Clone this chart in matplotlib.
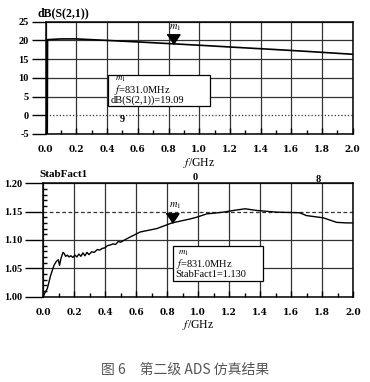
import matplotlib.pyplot as plt
from matplotlib.patches import Rectangle
from matplotlib.ticker import MultipleLocator, FormatStrFormatter

# Data: dB(S(2,1)) vs frequency (GHz)
s21_freq = [0.01, 0.012, 0.1, 0.2, 0.4, 0.6, 0.831, 1.05, 1.26, 1.48, 1.69, 2.0]
s21_db = [-5, 20.2, 20.4, 20.4, 20.0, 19.6, 19.09, 18.6, 18.1, 17.6, 17.1, 16.3]

# Data: StabFact1 vs frequency (GHz)
k_freq = [0.0, 0.004, 0.026, 0.047, 0.069, 0.084, 0.097, 0.105, 0.114, 0.127, 0.135,
          0.144, 0.155, 0.166, 0.178, 0.191, 0.204, 0.217, 0.230, 0.243, 0.256,
          0.269, 0.282, 0.295, 0.312, 0.329, 0.349, 0.364, 0.381, 0.398, 0.415,
          0.433, 0.450, 0.467, 0.484, 0.501, 0.519, 0.553, 0.626, 0.733, 0.831,
          0.948, 0.99, 1.056, 1.163, 1.228, 1.303, 1.378, 1.507, 1.655, 1.699,
          1.808, 1.894, 1.958, 2.0]
k_val = [1.000, 1.003, 1.014, 1.037, 1.055, 1.062, 1.065, 1.055, 1.067, 1.078, 1.076,
         1.071, 1.073, 1.070, 1.072, 1.069, 1.073, 1.070, 1.075, 1.071, 1.077,
         1.072, 1.078, 1.074, 1.079, 1.078, 1.083, 1.082, 1.085, 1.086, 1.090,
         1.091, 1.093, 1.092, 1.097, 1.096, 1.099, 1.104, 1.114, 1.120, 1.130,
         1.137, 1.140, 1.146, 1.149, 1.152, 1.155, 1.152, 1.149, 1.148, 1.143,
         1.139, 1.131, 1.130, 1.130]

marker_f = 0.831
marker_s21 = 19.09
marker_k = 1.130

W, H = 370, 382
plt.rcParams['font.family'] = ['Liberation Serif', 'DejaVu Serif']
plt.rcParams['mathtext.fontset'] = 'stix'

fig = plt.figure(figsize=(W / 100, H / 100), dpi=100)


def px(x, y):
    return x / W, 1 - y / H


tri = [(-1.2, 1.8), (1.2, 1.8), (0, 0)]


def style(ax, ymaj, ymin, fmt, ytick_len):
    ax.xaxis.set_major_locator(MultipleLocator(0.2))
    ax.xaxis.set_minor_locator(MultipleLocator(0.1))
    ax.yaxis.set_major_locator(MultipleLocator(ymaj))
    if ymin:
        ax.yaxis.set_minor_locator(MultipleLocator(ymin))
    ax.xaxis.set_major_formatter(FormatStrFormatter('%.1f'))
    ax.yaxis.set_major_formatter(FormatStrFormatter(fmt))
    ax.tick_params(axis='x', which='both', direction='in', width=1, pad=8)
    ax.tick_params(axis='x', which='major', length=4)
    ax.tick_params(axis='x', which='minor', length=3)
    ax.tick_params(axis='y', which='major', direction='out', length=ytick_len, width=1, pad=2)
    ax.tick_params(axis='y', which='minor', direction='in', length=3, width=1)
    for lab in ax.get_xticklabels():
        lab.set_fontweight('bold')
        lab.set_fontsize(6.5)
        lab.set_family('DejaVu Serif')
    for lab in ax.get_yticklabels():
        lab.set_fontweight('bold')
        lab.set_fontsize(7.5)
    ax.grid(True, which='major', color='#333333', linewidth=0.9)
    for s in ax.spines.values():
        s.set_linewidth(1.1)
    ax.set_xlim(0, 2.0)


def restyle_grid(ax, value, ls):
    for t, gl in zip(ax.yaxis.get_major_locator()(), ax.get_ygridlines()):
        if abs(t - value) < 1e-6:
            gl.set_linestyle(ls)


# Top chart
ax1 = fig.add_axes([45.7 / W, (H - 134) / H, 307 / W, 112.3 / H])
ax1.plot(s21_freq, s21_db, color='black', linewidth=1.2)
ax1.plot([marker_f], [marker_s21], marker=tri, markersize=14, color='black', linestyle='none')
ax1.set_ylim(-5, 25)
style(ax1, 5, None, '%d', 10)
ax1.minorticks_off()
ax1.xaxis.set_minor_locator(MultipleLocator(0.1))
ax1.set_xlabel(r'$f$/GHz', fontsize=8.5, labelpad=1)
fig.text(*px(37, 13), 'dB(S(2,1))', fontsize=8.5, fontweight='bold', va='center')
fig.text(*px(169, 28), r'$m_1$', fontsize=7.5, va='center')
fig.add_artist(Rectangle(px(108, 106), 102 / W, 31 / H, transform=fig.transFigure,
                         facecolor='white', edgecolor='black', linewidth=0.9))
fig.text(*px(115, 79), r'$m_1$', fontsize=6.5, va='center')
fig.text(*px(114, 90), r'$f$=831.0MHz', fontsize=7.5, va='center')
fig.text(*px(111, 100.5), 'dB(S(2,1))=19.09', fontsize=7.5, va='center')
fig.text(*px(120, 119), '9', fontsize=7.5, fontweight='bold', va='center')

# Bottom chart
ax2 = fig.add_axes([43.3 / W, (H - 296.5) / H, 309.7 / W, 113.2 / H])
ax2.plot(k_freq, k_val, color='black', linewidth=1.0)
ax2.plot([marker_f], [marker_k], marker=tri, markersize=14, color='black', linestyle='none')
ax2.set_ylim(1.0, 1.2)
style(ax2, 0.05, 0.01, '%.2f', 13)
ax2.set_xlabel(r'$f$/GHz', fontsize=8.5, labelpad=1)
fig.text(*px(39, 175), 'StabFact1', fontsize=8, fontweight='bold', va='center')
fig.text(*px(169, 206), r'$m_1$', fontsize=7.5, va='center')
fig.text(*px(193, 178), '0', fontsize=7.5, fontweight='bold', va='center')
fig.text(*px(316, 179), '8', fontsize=7.5, fontweight='bold', va='center')
fig.add_artist(Rectangle(px(173, 281), 90 / W, 35 / H, transform=fig.transFigure,
                         facecolor='white', edgecolor='black', linewidth=0.9))
fig.text(*px(178, 253), r'$m_1$', fontsize=6.5, va='center')
fig.text(*px(176, 264), r'$f$=831.0MHz', fontsize=7.5, va='center')
fig.text(*px(175, 274.5), 'StabFact1=1.130', fontsize=7.5, va='center')

# Caption
fig.text(0.5, 1 - 370 / H, '图 6　第二级 ADS 仿真结果', fontsize=10, color='#555555',
         ha='center', va='center', family=['Noto Sans CJK SC', 'DejaVu Sans'])

fig.canvas.draw()
restyle_grid(ax1, 0, ':')
restyle_grid(ax2, 1.15, (0, (3, 2)))

fig.savefig('out.png', dpi=100)
